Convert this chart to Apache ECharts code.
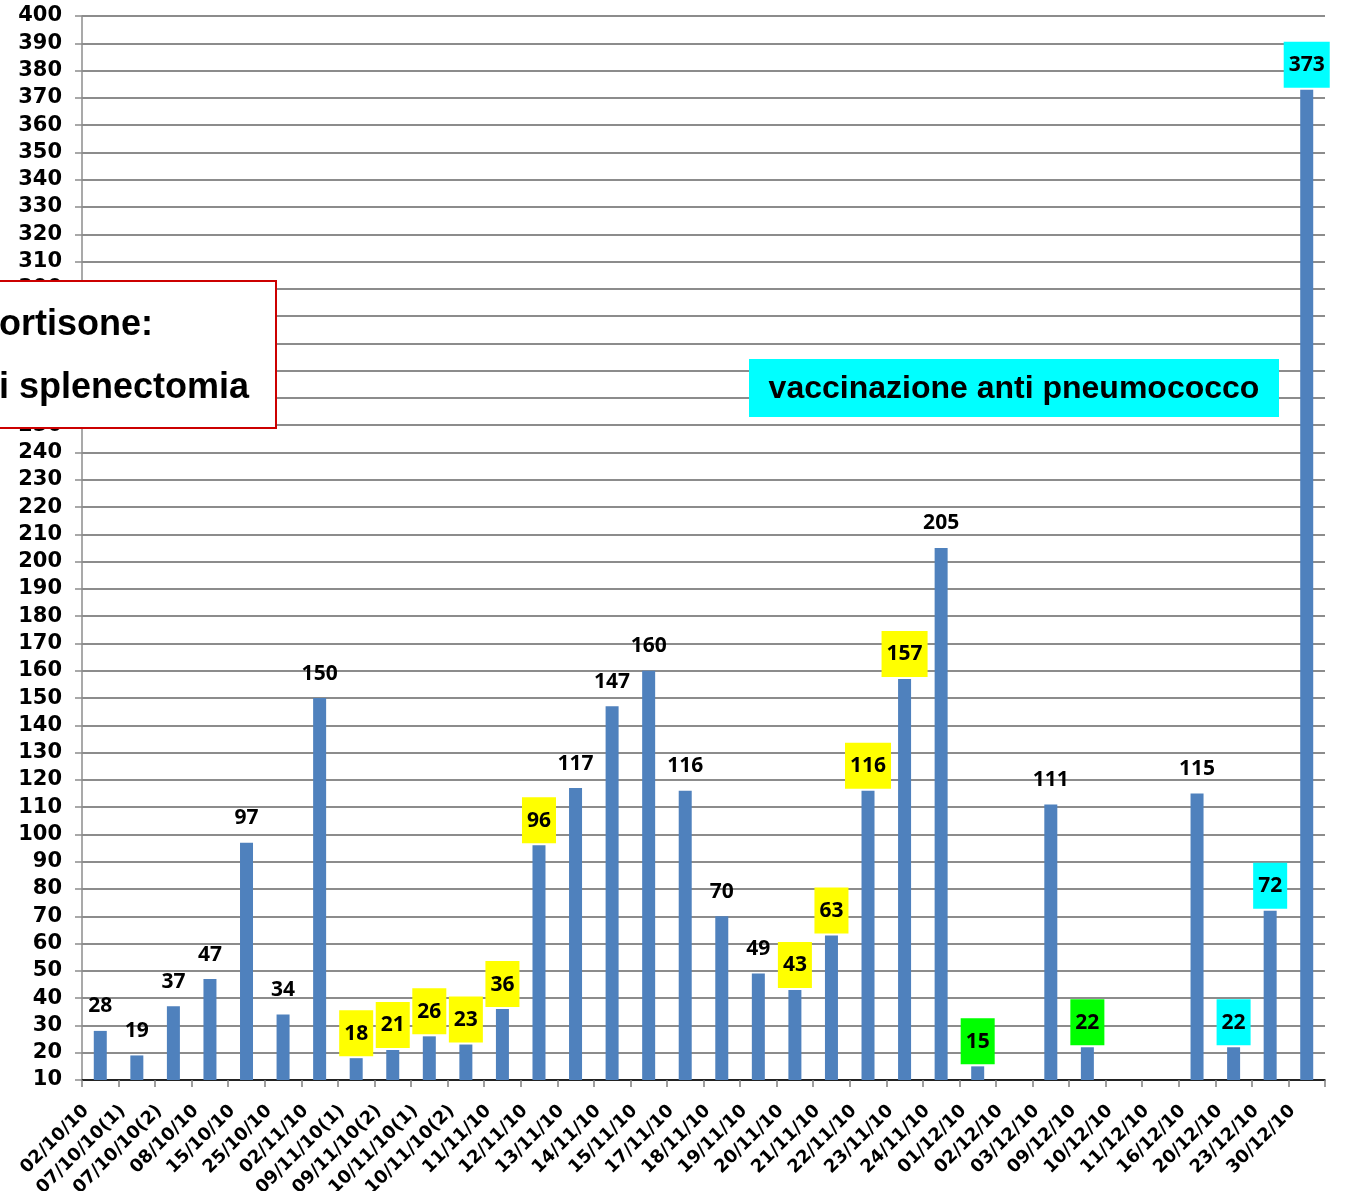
<!DOCTYPE html>
<html>
<head>
<meta charset="utf-8">
<script src="https://cdn.jsdelivr.net/npm/echarts@6/dist/echarts.min.js"></script>
<style>
  html, body { margin: 0; padding: 0; background: #fff; }
  #chart { width: 1347px; height: 1191px; }
</style>
</head>
<body>
<div id="chart"></div>
<script>
// Dates of the blood counts (platelets, x1000/µL)
const categories = [
  '02/10/10', '07/10/10(1)', '07/10/10(2)', '08/10/10', '15/10/10', '25/10/10',
  '02/11/10', '09/11/10(1)', '09/11/10(2)', '10/11/10(1)', '10/11/10(2)', '11/11/10',
  '12/11/10', '13/11/10', '14/11/10', '15/11/10', '17/11/10', '18/11/10',
  '19/11/10', '20/11/10', '21/11/10', '22/11/10', '23/11/10', '24/11/10',
  '01/12/10', '02/12/10', '03/12/10', '09/12/10', '10/12/10', '11/12/10',
  '16/12/10', '20/12/10', '23/12/10', '30/12/10'
];

// Measured values (null = no measurement that day)
const values = [
  28, 19, 37, 47, 97, 34,
  150, 18, 21, 26, 23, 36,
  96, 117, 147, 160, 116, 70,
  49, 43, 63, 116, 157, 205,
  15, null, 111, 22, null, null,
  115, 22, 72, 373
];

// Highlight colour behind each value label ('' = none)
const labelHighlight = [
  '', '', '', '', '', '',
  '', '#FFFF00', '#FFFF00', '#FFFF00', '#FFFF00', '#FFFF00',
  '#FFFF00', '', '', '', '', '',
  '', '#FFFF00', '#FFFF00', '#FFFF00', '#FFFF00', '',
  '#00FF00', '', '', '#00FF00', '', '',
  '', '#00FFFF', '#00FFFF', '#00FFFF'
];

// Y axis range
const yMin = 10;
const yMax = 400;
const yStep = 10;

const chart = echarts.init(document.getElementById('chart'), null, { renderer: 'canvas' });

const barData = values.map((v, i) => {
  if (v === null) return { value: null };
  const bg = labelHighlight[i];
  return {
    value: v,
    label: {
      backgroundColor: bg || 'transparent'
    }
  };
});

chart.setOption({
  animation: false,
  backgroundColor: '#ffffff',
  grid: {
    left: 82, right: 22, top: 16, bottom: 111,
    containLabel: false,
    outerBoundsMode: 'none'
  },
  xAxis: {
    type: 'category',
    data: categories,
    axisLine: { show: true, lineStyle: { color: '#000000', width: 1.5 } },
    axisTick: { show: true, length: 7, lineStyle: { color: '#7f7f7f', width: 1.5 } },
    axisLabel: {
      interval: 0,
      rotate: 45,
      margin: 14,
      padding: [0, 20, 0, 0],
      color: '#000000',
      fontFamily: 'DejaVu Sans',
      fontWeight: 'bold',
      fontSize: 18
    }
  },
  yAxis: {
    type: 'value',
    min: yMin,
    max: yMax,
    interval: yStep,
    axisLine: { show: true, lineStyle: { color: '#8c8c8c', width: 1.5 } },
    axisTick: { show: true, length: 7, lineStyle: { color: '#8c8c8c', width: 1.5 } },
    splitLine: { show: true, lineStyle: { color: '#8c8c8c', width: 2 } },
    axisLabel: {
      margin: 20,
      color: '#000000',
      fontFamily: 'DejaVu Sans',
      fontWeight: 'bold',
      fontSize: 21
    }
  },
  series: [{
    type: 'bar',
    data: barData,
    barWidth: 13,
    itemStyle: { color: '#4F81BD' },
    label: {
      show: true,
      position: 'top',
      distance: 2,
      color: '#000000',
      fontFamily: 'Open Sans',
      fontWeight: 'bold',
      fontSize: 21,
      lineHeight: 21,
      padding: [13, 5, 12, 5]
    }
  }],
  graphic: [
    {
      type: 'rect',
      left: 749,
      top: 359,
      z: 100,
      shape: { width: 530, height: 58 },
      style: { fill: '#00FFFF' }
    },
    {
      type: 'text',
      x: 1014,
      y: 389,
      z: 101,
      style: {
        text: 'vaccinazione anti pneumococco',
        fill: '#000000',
        fontFamily: 'Liberation Sans',
        fontWeight: 'bold',
        fontSize: 32,
        align: 'center',
        verticalAlign: 'middle'
      }
    },
    {
      type: 'rect',
      x: -10,
      y: 281,
      z: 100,
      shape: { x: 0, y: 0, width: 286, height: 147 },
      style: { fill: '#ffffff', stroke: '#CC0000', lineWidth: 2 }
    },
    {
      type: 'text',
      x: -1,
      y: 325,
      z: 101,
      style: {
        text: 'ortisone:',
        fill: '#000000',
        fontFamily: 'Liberation Sans',
        fontWeight: 'bold',
        fontSize: 36,
        align: 'left',
        verticalAlign: 'middle'
      }
    },
    {
      type: 'text',
      x: -1,
      y: 388,
      z: 101,
      style: {
        text: 'i splenectomia',
        fill: '#000000',
        fontFamily: 'Liberation Sans',
        fontWeight: 'bold',
        fontSize: 36,
        align: 'left',
        verticalAlign: 'middle'
      }
    }
  ]
});
</script>
</body>
</html>
